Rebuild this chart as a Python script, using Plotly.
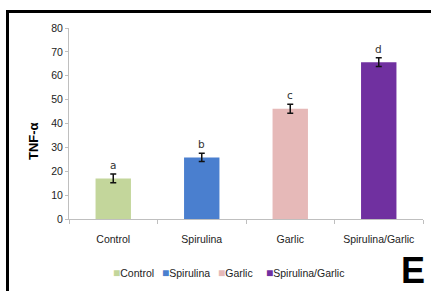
import plotly.graph_objects as go

categories = ["Control", "Spirulina", "Garlic", "Spirulina/Garlic"]
values = [17, 25.8, 46.2, 65.7]
errors = [1.8, 1.7, 1.9, 1.8]
letters = ["a", "b", "c", "d"]
colors = ["#c3d69b", "#4a7fcf", "#e6b9b8", "#7030a0"]
y_ticks = [0, 10, 20, 30, 40, 50, 60, 70, 80]
legend_x_px = [111, 160, 216, 264]

W, H = 431, 291
L, R, T, B = 69, 8, 28, 72
pw = W - L - R
ph = H - T - B

def px_x(x):
    return (x - L) / pw

def px_y(y):
    return (H - B - y) / ph

fig = go.Figure()
for c, v, e, col in zip(categories, values, errors, colors):
    fig.add_trace(go.Bar(
        x=[c], y=[v], name=c, width=0.4,
        marker=dict(color=col, line=dict(width=0)),
        error_y=dict(type="data", array=[e], color="#111111", thickness=1.5, width=3),
        showlegend=False,
    ))

for c, v, e, lt in zip(categories, values, errors, letters):
    fig.add_annotation(x=c, y=v + e, text=lt, showarrow=False, xanchor="center", yanchor="bottom", yshift=1,
                       font=dict(family="DejaVu Sans", size=10.5, color="#333333"))

# legend drawn as text with coloured squares
for c, col, lx in zip(categories, colors, legend_x_px):
    fig.add_annotation(xref="paper", yref="paper", x=px_x(lx), y=px_y(273), xanchor="left", yanchor="middle",
                       text=f'<span style="color:{col};font-size:12px">■</span>{c}', showarrow=False,
                       font=dict(family="Liberation Sans", size=10.5, color="#222"))

fig.add_annotation(xref="paper", yref="paper", x=px_x(33), y=px_y(141), xanchor="center", yanchor="middle",
                   text="<b>TNF-α</b>",
                   textangle=-90, showarrow=False, font=dict(family="Liberation Sans", size=13, color="#000"))
fig.add_annotation(xref="paper", yref="paper", x=px_x(413), y=px_y(270), xanchor="center", yanchor="middle",
                   text="<b>E</b>",
                   showarrow=False, font=dict(family="Liberation Sans", size=36, color="#000"))

# frame lines
fig.add_shape(type="line", xref="paper", yref="paper", x0=px_x(6), x1=px_x(W + 5), y0=px_y(11.5), y1=px_y(11.5),
              line=dict(color="#000", width=3))
fig.add_shape(type="line", xref="paper", yref="paper", x0=px_x(7.5), x1=px_x(7.5), y0=px_y(10), y1=px_y(H + 5),
              line=dict(color="#000", width=3))

fig.update_layout(
    width=W, height=H, margin=dict(l=L, r=R, t=T, b=B, autoexpand=False),
    paper_bgcolor="white", plot_bgcolor="white",
    barmode="overlay",
    font=dict(family="Liberation Sans", size=11, color="#222"),
    showlegend=False,
    xaxis=dict(categoryorder="array", categoryarray=categories, showline=True, linecolor="#bfbfbf",
               ticks="outside", tickson="boundaries", ticklen=4, tickcolor="#bfbfbf",
               ticklabelstandoff=10,
               tickfont=dict(size=10.5, color="#222"), showgrid=False, automargin=False),
    yaxis=dict(range=[0, 80], tickvals=y_ticks, showline=True, linecolor="#bfbfbf", ticks="outside",
               ticklen=3, tickcolor="#bfbfbf", showgrid=False, zeroline=False, automargin=False,
               tickfont=dict(size=10.5, color="#222")),
)

fig.write_html("out.html", config={"displayModeBar": False},
               post_script="document.body.style.margin='0';document.body.style.overflow='hidden';")
